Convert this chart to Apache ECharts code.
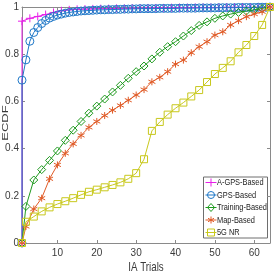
<!DOCTYPE html>
<html>
<head>
<meta charset="utf-8">
<script src="https://cdn.jsdelivr.net/npm/echarts@6/dist/echarts.min.js"></script>
<style>
html,body{margin:0;padding:0;background:#fff;}
#c{width:274px;height:273px;}
</style>
</head>
<body>
<div id="c"></div>
<script>
// ---- data ----
const xTicks = [10, 20, 30, 40, 50, 60];
const yTicks = [0, 0.2, 0.4, 0.6, 0.8, 1];

const agpsTrials = [1, 1, 3, 5, 7, 9, 11, 13, 15, 17, 19, 21, 23, 25, 27, 29, 31, 33, 35, 37, 39, 41, 43, 45, 47, 49, 51, 53, 55, 57, 59, 61, 63, 64];
const agpsECDF = [0, 0.94, 0.952, 0.96, 0.968, 0.977, 0.984, 0.988, 0.99, 0.991, 0.992, 0.993, 0.993, 0.994, 0.994, 0.995, 0.995, 0.996, 0.996, 0.996, 0.997, 0.997, 0.997, 0.998, 0.998, 0.998, 0.998, 0.999, 0.999, 0.999, 0.999, 0.999, 0.999, 1];

const gpsTrials = [1, 1, 2, 3, 4, 5, 6, 7, 8, 9, 10, 11, 12, 13, 14, 15, 16, 17, 18, 19, 20, 21, 22, 23, 24, 25, 26, 27, 28, 29, 30, 31, 32, 33, 34, 35, 36, 37, 38, 39, 40, 41, 42, 43, 44, 45, 46, 47, 48, 49, 50, 51, 52, 53, 54, 55, 56, 57, 58, 59, 60, 61, 62, 63, 64];
const gpsECDF = [0, 0.69, 0.776, 0.855, 0.892, 0.913, 0.93, 0.943, 0.953, 0.96, 0.966, 0.97, 0.974, 0.977, 0.979, 0.981, 0.983, 0.984, 0.985, 0.986, 0.987, 0.988, 0.988, 0.989, 0.989, 0.99, 0.99, 0.991, 0.991, 0.992, 0.992, 0.993, 0.993, 0.993, 0.993, 0.993, 0.994, 0.994, 0.994, 0.994, 0.994, 0.995, 0.995, 0.995, 0.995, 0.995, 0.996, 0.996, 0.996, 0.996, 0.996, 0.997, 0.997, 0.997, 0.997, 0.997, 0.998, 0.998, 0.998, 0.998, 0.998, 0.999, 0.999, 0.999, 1];

const evenTrials = [1, 2, 4, 6, 8, 10, 12, 14, 16, 18, 20, 22, 24, 26, 28, 30, 32, 34, 36, 38, 40, 42, 44, 46, 48, 50, 52, 54, 56, 58, 60, 62, 64];
const trainingECDF = [0, 0.155, 0.267, 0.311, 0.35, 0.39, 0.435, 0.478, 0.515, 0.55, 0.58, 0.61, 0.64, 0.668, 0.698, 0.726, 0.75, 0.78, 0.808, 0.832, 0.853, 0.877, 0.9, 0.922, 0.937, 0.952, 0.962, 0.97, 0.977, 0.983, 0.988, 0.994, 1];
const mapECDF = [0, 0.07, 0.144, 0.19, 0.272, 0.331, 0.38, 0.42, 0.456, 0.49, 0.515, 0.54, 0.563, 0.583, 0.605, 0.627, 0.65, 0.683, 0.702, 0.726, 0.758, 0.775, 0.806, 0.832, 0.853, 0.881, 0.895, 0.924, 0.942, 0.959, 0.97, 0.98, 1];
const nrECDF = [0, 0.09, 0.112, 0.134, 0.151, 0.165, 0.177, 0.19, 0.204, 0.217, 0.226, 0.236, 0.246, 0.257, 0.272, 0.296, 0.355, 0.475, 0.513, 0.544, 0.571, 0.595, 0.621, 0.648, 0.682, 0.716, 0.742, 0.77, 0.808, 0.839, 0.877, 0.924, 1];

const seriesNames = ['A-GPS-Based', 'GPS-Based', 'Training-Based', 'Map-Based', '5G NR'];
const seriesColors = ['#e81ee8', '#1f78c8', '#1f9a1f', '#e05a26', '#c8c81c'];
const seriesSymbols = ['plus', 'circle', 'diamond', 'star', 'square'];

// ---- chart ----
const FONT = '"Liberation Sans", Arial, sans-serif';
const AX = '#8a8a8a';
const TXT = '#3a3a3a';

function pairs(xs, ys) { return xs.map((x, i) => [x, ys[i]]); }

const SYM = {
  plus: { s: 'path://M0,-1L0,1M-1,0L1,0', size: 8 },
  circle: { s: 'circle', size: 8 },
  diamond: { s: 'diamond', size: 8 },
  star: { s: 'path://M0,-1L0,1M-0.866,-0.5L0.866,0.5M-0.866,0.5L0.866,-0.5', size: 7 },
  square: { s: 'rect', size: 7 }
};

function mk(idx, xs, ys) {
  const c = seriesColors[idx];
  const sym = SYM[seriesSymbols[idx]];
  return {
    name: seriesNames[idx],
    type: 'line',
    data: pairs(xs, ys),
    symbol: sym.s,
    symbolSize: sym.size,
    showAllSymbol: true,
    animation: false,
    lineStyle: { color: c, width: 1 },
    itemStyle: { color: 'rgba(0,0,0,0)', borderColor: c, borderWidth: 1 },
    emphasis: { disabled: true },
    z: 2 + idx
  };
}

// ---- legend drawn as a boxed key (text squeezed like the reference) ----
const LEG = { x: 203, y: 176, w: 64, h: 61, row0: 5.5, rowGap: 12.5 };
function legendGraphic() {
  const kids = [{
    type: 'rect', shape: { x: 0, y: 0, width: LEG.w, height: LEG.h },
    style: { fill: '#fff', stroke: '#6e6e6e', lineWidth: 1 }
  }];
  seriesNames.forEach((name, i) => {
    const c = seriesColors[i];
    const cy = LEG.row0 + i * LEG.rowGap;
    const cx = 7.5;
    const st = { stroke: c, fill: 'none', lineWidth: 1 };
    kids.push({ type: 'line', shape: { x1: 2, y1: cy, x2: 13, y2: cy }, style: st });
    const k = seriesSymbols[i];
    if (k === 'plus') {
      kids.push({ type: 'line', shape: { x1: cx - 4, y1: cy, x2: cx + 4, y2: cy }, style: st });
      kids.push({ type: 'line', shape: { x1: cx, y1: cy - 4, x2: cx, y2: cy + 4 }, style: st });
    } else if (k === 'circle') {
      kids.push({ type: 'circle', shape: { cx: cx, cy: cy, r: 3.5 }, style: st });
    } else if (k === 'diamond') {
      kids.push({ type: 'polygon', shape: { points: [[cx, cy - 4], [cx + 3.5, cy], [cx, cy + 4], [cx - 3.5, cy]] }, style: st });
    } else if (k === 'star') {
      kids.push({ type: 'line', shape: { x1: cx, y1: cy - 3.5, x2: cx, y2: cy + 3.5 }, style: st });
      kids.push({ type: 'line', shape: { x1: cx - 3, y1: cy - 1.75, x2: cx + 3, y2: cy + 1.75 }, style: st });
      kids.push({ type: 'line', shape: { x1: cx - 3, y1: cy + 1.75, x2: cx + 3, y2: cy - 1.75 }, style: st });
    } else {
      kids.push({ type: 'rect', shape: { x: cx - 3.5, y: cy - 3.5, width: 7, height: 7 }, style: st });
    }
    kids.push({
      type: 'text', x: 13.5, y: cy, scaleX: 0.78,
      style: { text: name, fill: '#222', font: '9.5px ' + FONT, verticalAlign: 'middle', align: 'left' }
    });
  });
  return { type: 'group', left: LEG.x, top: LEG.y, z: 100, children: kids };
}

const chart = echarts.init(document.getElementById('c'), null, { renderer: 'canvas' });
chart.setOption({
  animation: false,
  backgroundColor: '#fff',
  grid: { left: 22, right: 4, top: 7, bottom: 30, containLabel: false },
  xAxis: [{
    type: 'value', min: 1, max: 64,
    axisLine: { show: true, onZero: false, lineStyle: { color: AX, width: 1 } },
    axisTick: { show: true, inside: true, length: 3, customValues: xTicks, lineStyle: { color: AX } },
    axisLabel: { customValues: xTicks, fontFamily: FONT, fontSize: 10, color: TXT, margin: 5 },
    splitLine: { show: false }
  }, {
    type: 'value', min: 1, max: 64, position: 'top',
    axisLine: { show: true, onZero: false, lineStyle: { color: AX, width: 1 } },
    axisTick: { show: true, inside: true, length: 3, customValues: xTicks, lineStyle: { color: AX } },
    axisLabel: { show: false },
    splitLine: { show: false }
  }],
  yAxis: [{
    type: 'value', min: 0, max: 1, interval: 0.2,
    axisLine: { show: true, onZero: false, lineStyle: { color: AX, width: 1 } },
    axisTick: { show: true, inside: true, length: 3, lineStyle: { color: AX } },
    axisLabel: { fontFamily: FONT, fontSize: 10, color: TXT, margin: 3,
      formatter: v => (v === 0 ? '0' : v === 1 ? '1' : v.toFixed(1)) },
    splitLine: { show: false }
  }, {
    type: 'value', min: 0, max: 1, interval: 0.2, position: 'right',
    axisLine: { show: true, onZero: false, lineStyle: { color: AX, width: 1 } },
    axisTick: { show: true, inside: true, length: 3, lineStyle: { color: AX } },
    axisLabel: { show: false },
    splitLine: { show: false }
  }],
  graphic: [
    legendGraphic(),
    { type: 'text', x: 146, y: 267, scaleX: 0.75, z: 100,
      style: { text: 'IA Trials', fill: TXT, font: '13px ' + FONT, align: 'center', verticalAlign: 'middle' } },
    { type: 'text', x: 5, y: 123, rotation: Math.PI / 2, scaleY: 0.75, z: 100,
      style: { text: 'ECDF', fill: TXT, font: '13px ' + FONT, align: 'center', verticalAlign: 'middle' } }
  ],
  series: [
    mk(0, agpsTrials, agpsECDF),
    mk(1, gpsTrials, gpsECDF),
    mk(2, evenTrials, trainingECDF),
    mk(3, evenTrials, mapECDF),
    mk(4, evenTrials, nrECDF)
  ]
});
</script>
</body>
</html>
